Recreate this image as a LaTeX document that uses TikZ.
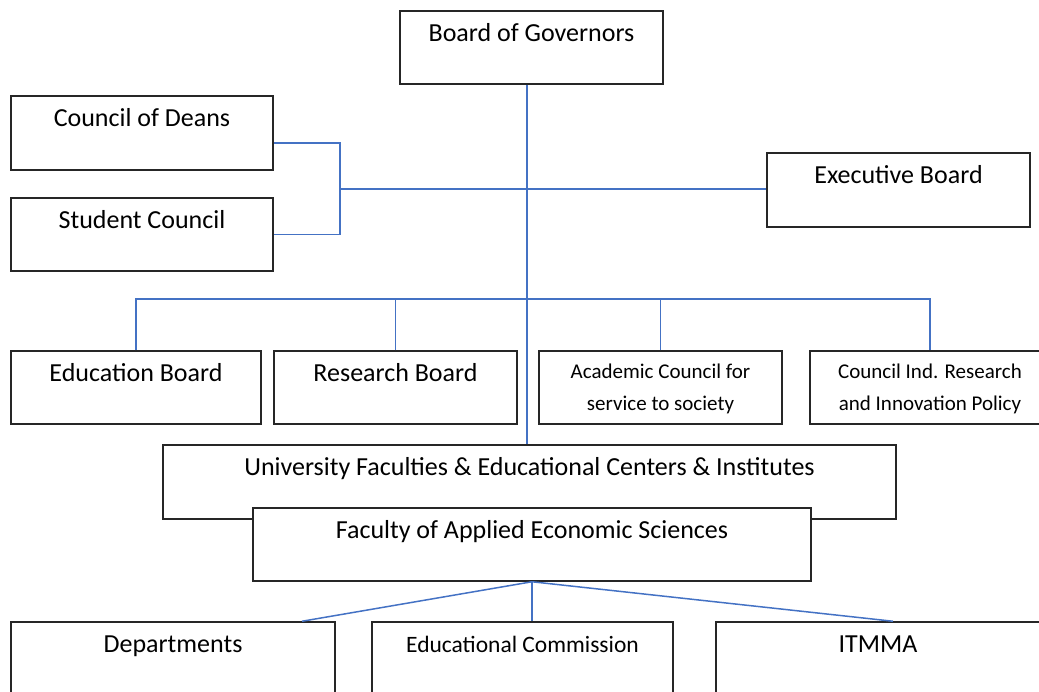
\documentclass[tikz,border=0pt]{standalone}
\usepackage{fontspec}
\setmainfont{Carlito}
\usetikzlibrary{positioning}
\usetikzlibrary{calc}
\definecolor{wordblue}{RGB}{68,114,196}
\tikzset{box/.style={draw=black!85, line width=1.5pt, fill=white, rectangle, inner sep=0pt, minimum height=73pt}}
\tikzset{lbl/.style={anchor=base, yshift=-31pt, inner sep=0pt, font=\fontsize{26}{31}\selectfont}}
\tikzset{lbl2/.style={anchor=base, yshift=-60pt, inner sep=0pt, align=center, font=\fontsize{21}{32}\selectfont}}
\tikzset{ln/.style={draw=wordblue, line width=1.5pt}}

\begin{document}
\begin{tikzpicture}[x=1pt, y=-1pt]
\useasboundingbox (0,0) rectangle (1039,691);
\clip (0,0) rectangle (1039,691);

\node[box, minimum width=263pt, label={[lbl]north:Board of Governors}] (bog) at (531.5, 47.5) {};
\node[box, minimum width=262pt, minimum height=74pt, label={[lbl]north:Council of Deans}] (deans) at (142, 133) {};
\node[box, minimum width=262pt, label={[lbl]north:Student Council}] (student) at (142, 234.5) {};
\node[box, minimum width=263pt, minimum height=74pt, label={[lbl]north:Executive Board}] (exec) at (898.5, 190) {};

\node[box, minimum width=250pt, label={[lbl]north:Education Board}] (edu) at (136, 387.5) {};
\node[box, minimum width=243pt, label={[lbl]north:Research Board}] (res) at (395.5, 387.5) {};
\node[box, minimum width=243pt, label={[lbl2]north:Academic Council for\\service to society}] (acs) at (660.5, 387.5) {};
\node[box, minimum width=240pt, label={[lbl2]north:Council Ind. Research\\and Innovation Policy}] (cirp) at (930, 387.5) {};

\node[box, minimum width=733pt, minimum height=74pt, label={[lbl]north:University Faculties \& Educational Centers \& Institutes}] (univ) at (529.5, 482) {};
\node[box, minimum width=558pt, label={[lbl]north:Faculty of Applied Economic Sciences}] (fac) at (532, 544.5) {};

\node[box, minimum width=324pt, minimum height=100pt, label={[lbl]north:Departments}] (dept) at (173, 672) {};
\node[box, minimum width=301pt, minimum height=100pt, label={[lbl, font=\fontsize{23.5}{28}\selectfont]north:Educational Commission}] (comm) at (522.5, 672) {};
\node[box, minimum width=324pt, minimum height=100pt, label={[lbl]north:ITMMA}] (itmma) at (878, 672) {};

\coordinate (trunk) at (527, 299);
\coordinate (fork) at (340, 189);

% governance
\draw[ln] (bog.south -| trunk) -- (univ.north -| trunk);
\draw[ln] ([yshift=-10pt]deans.east) -| (fork) |- (student.east);
\draw[ln] (fork) -- (fork -| exec.west);

% boards
\draw[ln] (edu.north) |- (trunk) -| (cirp.north);
\draw[ln] (res.north) -- (res.north |- trunk);
\draw[ln] (acs.north) -- (acs.north |- trunk);

% faculty
\draw[ln] (fac.south) -- ([xshift=129pt]dept.north);
\draw[ln] (fac.south) -- (fac.south |- comm.north);
\draw[ln] (fac.south) -- ([xshift=15pt]itmma.north);
\end{tikzpicture}
\end{document}
